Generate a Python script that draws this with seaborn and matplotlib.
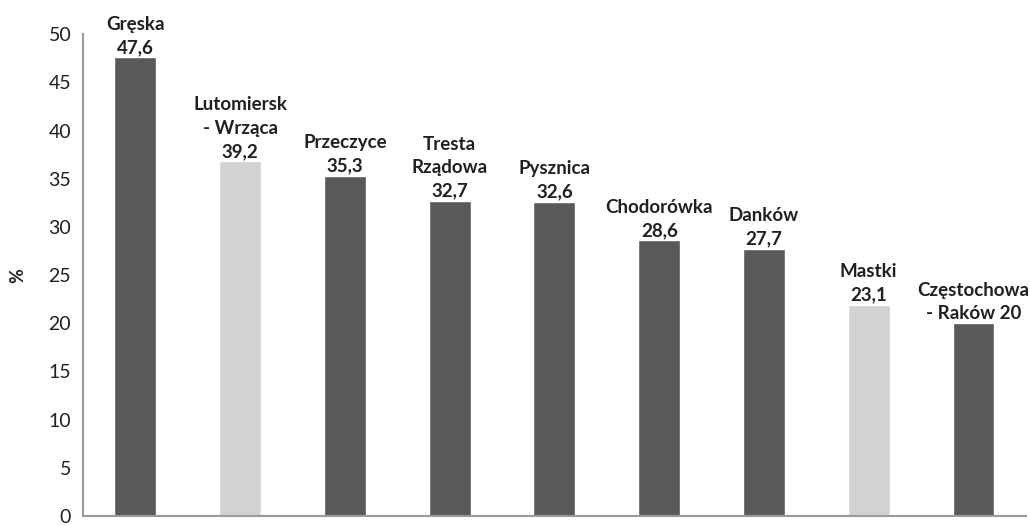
import pandas as pd
import matplotlib.pyplot as plt
import seaborn as sns

# dane
miejscowosci = ["Gręska", "Lutomiersk - Wrząca", "Przeczyce", "Tresta Rządowa", "Pysznica",
                "Chodorówka", "Danków", "Mastki", "Częstochowa - Raków"]
wysokosc = [47.6, 36.8, 35.3, 32.7, 32.6, 28.6, 27.7, 21.9, 20.0]
etykiety = ["Gręska\n47,6", "Lutomiersk\n- Wrząca\n39,2", "Przeczyce\n35,3", "Tresta\nRządowa\n32,7",
            "Pysznica\n32,6", "Chodorówka\n28,6", "Danków\n27,7", "Mastki\n23,1", "Częstochowa\n- Raków 20"]
grupa = ["ciemny", "jasny", "ciemny", "ciemny", "ciemny", "ciemny", "ciemny", "jasny", "ciemny"]

df = pd.DataFrame({"Miejscowość": miejscowosci, "Wartość": wysokosc, "Grupa": grupa})

sns.set_style("white")
plt.rcParams["font.family"] = ["Lato", "DejaVu Sans"]

fig = plt.figure(figsize=(10.3, 5.26), dpi=100)
ax = fig.add_axes([0.0806, 0.019, 0.9154, 0.916])
sns.barplot(data=df, x="Miejscowość", y="Wartość", hue="Grupa",
            palette={"ciemny": "#58595b", "jasny": "#d1d2d4"},
            width=0.4, dodge=False, legend=False, ax=ax)

for i, (h, txt) in enumerate(zip(wysokosc, etykiety)):
    ax.annotate(txt, (i, h), xytext=(0, 1), textcoords="offset points",
                ha="center", va="bottom", fontsize=13.5, fontweight="bold",
                color="#231f20", linespacing=1.45)

ax.set_ylim(0, 50)
ax.set_xlim(-0.5, len(miejscowosci) - 0.5)
ax.set_yticks(range(0, 51, 5))
ax.set_xticks([i - 0.5 for i in range(len(miejscowosci) + 1)])
ax.set_xticklabels([])
ax.tick_params(axis="x", direction="in", length=5, color="#9a9a9a", width=1.2)
ax.tick_params(axis="y", direction="out", length=5, color="#9a9a9a", width=1.2,
               labelsize=14, labelcolor="#231f20")
ax.set_xlabel("")
ax.set_ylabel("%", fontsize=13, fontweight="bold", color="#231f20", labelpad=16)

for s in ["top", "right"]:
    ax.spines[s].set_visible(False)
for s in ["left", "bottom"]:
    ax.spines[s].set_color("#9a9a9a")
    ax.spines[s].set_linewidth(1.5)

fig.savefig("out.png", dpi=100)
